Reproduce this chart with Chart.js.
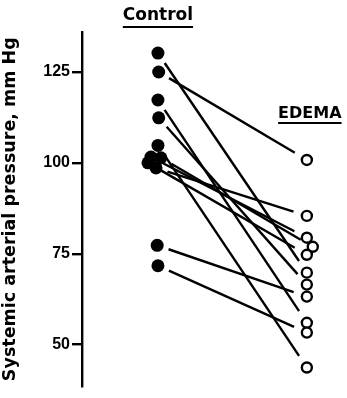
<!DOCTYPE html>
<html>
<head>
<meta charset="utf-8">
<script src="https://cdn.jsdelivr.net/npm/chart.js@4.4.1/dist/chart.umd.min.js"></script>
<style>
  html, body { margin: 0; padding: 0; background: #fff; }
  #wrap { width: 347px; height: 398px; }
</style>
</head>
<body>
<div id="wrap"><canvas id="c"></canvas></div>
<script>
// Group labels
const groups = ["Control", "EDEMA"];
// Paired values (same index = same animal), mm Hg
const controlValues = [130.2, 125.0, 117.3, 112.4, 104.8, 101.6, 101.4, 100.0, 98.6, 77.3, 71.7];
const edemaValues   = [69.8, 100.8, 56.0, 66.5, 43.7, 79.4, 76.9, 74.7, 85.4, 63.2, 53.3];
// small horizontal offsets used in the original to separate overlapping symbols
const controlJitter = [0, 0.005, 0, 0.005, 0, -0.047, 0.02, -0.067, -0.013, -0.005, 0];
const edemaJitter   = [0, 0, 0, 0, 0, 0, 0.04, 0, 0, 0, 0];
// Y tick labels
const yTicks = [50, 75, 100, 125];
const yTitle = "Systemic arterial pressure, mm Hg";

const controlPts = controlValues.map((v, i) => ({ x: 0 + controlJitter[i], y: v }));
const edemaPts = edemaValues.map((v, i) => ({ x: 1 + edemaJitter[i], y: v }));

const pairLines = {
  id: 'pairLines',
  beforeDatasetsDraw(chart) {
    const { ctx, scales: { x, y } } = chart;
    ctx.save();
    ctx.strokeStyle = '#000';
    ctx.lineWidth = 2.4;
    ctx.lineCap = 'butt';
    for (let i = 0; i < controlPts.length; i++) {
      const x0 = x.getPixelForValue(controlPts[i].x), y0 = y.getPixelForValue(controlPts[i].y);
      const x1 = x.getPixelForValue(edemaPts[i].x), y1 = y.getPixelForValue(edemaPts[i].y);
      const dx = x1 - x0, dy = y1 - y0, L = Math.hypot(dx, dy);
      const ux = dx / L, uy = dy / L;
      ctx.beginPath();
      ctx.moveTo(x0 + ux * 12, y0 + uy * 12);
      ctx.lineTo(x1 - ux * 14, y1 - uy * 14);
      ctx.stroke();
    }
    ctx.restore();
  }
};

const groupLabels = {
  id: 'groupLabels',
  afterDraw(chart) {
    const { ctx, scales: { x, y } } = chart;
    ctx.save();
    ctx.fillStyle = '#000';
    ctx.strokeStyle = '#000';
    ctx.textAlign = 'center';
    ctx.textBaseline = 'alphabetic';
    const draw = (txt, cx, base, size, ul) => {
      ctx.font = 'bold ' + size + 'px "DejaVu Sans"';
      ctx.fillText(txt, cx, base);
      const w = ctx.measureText(txt).width;
      ctx.lineWidth = 2;
      ctx.beginPath();
      ctx.moveTo(cx - w / 2, ul);
      ctx.lineTo(cx + w / 2, ul);
      ctx.stroke();
    };
    draw(groups[0], x.getPixelForValue(0), 20, 17, 27);
    draw(groups[1], x.getPixelForValue(1) + 3, 118, 16, 123);
    ctx.restore();
  }
};

new Chart(document.getElementById('c'), {
  type: 'scatter',
  data: {
    datasets: [
      {
        label: groups[0],
        data: controlPts,
        pointRadius: 6.5,
        pointBackgroundColor: '#000',
        pointBorderColor: '#000',
        pointBorderWidth: 0
      },
      {
        label: groups[1],
        data: edemaPts,
        pointRadius: 5,
        pointBackgroundColor: '#fff',
        pointBorderColor: '#000',
        pointBorderWidth: 2.4
      }
    ]
  },
  options: {
    responsive: true,
    maintainAspectRatio: false,
    animation: false,
    layout: { padding: { top: 32, bottom: 11, left: 0, right: 7 } },
    plugins: { legend: { display: false }, tooltip: { enabled: false } },
    scales: {
      x: {
        type: 'linear',
        display: false,
        min: -0.51,
        max: 1.22
      },
      y: {
        type: 'linear',
        min: 38.5,
        max: 136,
        afterFit(scale) { scale.width = 82; },
        afterBuildTicks(scale) { scale.ticks = yTicks.map(v => ({ value: v })); },
        border: { display: true, color: '#000', width: 2.4 },
        grid: { drawOnChartArea: false, drawTicks: true, tickLength: 10, color: '#000', lineWidth: 2.4 },
        ticks: {
          color: '#000',
          padding: 2,
          font: { family: '"Liberation Sans"', size: 16, weight: 'bold' }
        },
        title: {
          display: true,
          text: yTitle,
          color: '#000',
          padding: { top: 0, bottom: 0 },
          font: { family: '"DejaVu Sans"', size: 17.5, weight: 'bold' }
        }
      }
    }
  },
  plugins: [pairLines, groupLabels]
});
</script>
</body>
</html>
